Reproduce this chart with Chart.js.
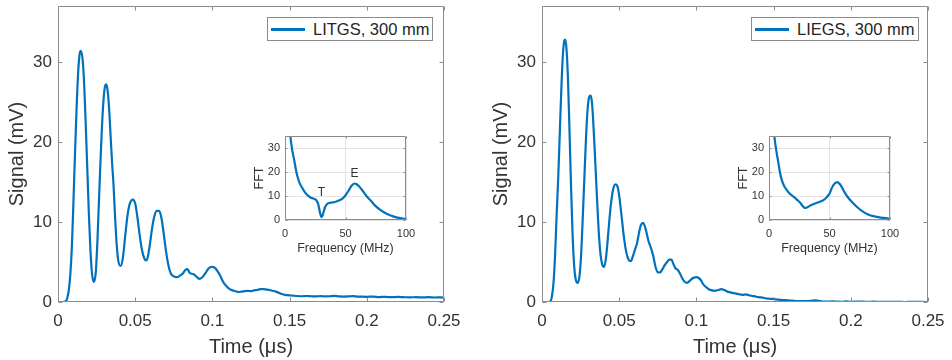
<!DOCTYPE html>
<html><head><meta charset="utf-8">
<script src="https://cdn.jsdelivr.net/npm/chart.js@4.4.1/dist/chart.umd.min.js"></script>
<style>
html,body{margin:0;padding:0;background:#fff;width:952px;height:360px;overflow:hidden;font-family:"Liberation Sans",Arial,sans-serif}
canvas{position:absolute}
.legend{position:absolute;border:1px solid #8c8c8c;background:#fff;height:24px;box-sizing:border-box;color:#262626;font-size:16.5px;line-height:22px;white-space:nowrap}
.legend .ln{position:absolute;left:3px;top:10px;width:34px;height:2.5px;background:#0072BD}
.legend .tx{position:absolute;left:45px;top:0px}
</style></head><body>
<canvas id="mainL" width="466" height="360" style="left:0;top:0"></canvas>
<canvas id="mainR" width="466" height="360" style="left:484px;top:0"></canvas>
<canvas id="insetL" width="167" height="128" style="left:253px;top:128px"></canvas>
<canvas id="insetR" width="167" height="128" style="left:737px;top:128px"></canvas>
<div class="legend" style="left:267px;top:17px;width:166px"><span class="ln"></span><span class="tx" id="legL"></span></div>
<div class="legend" style="left:751px;top:17px;width:168px"><span class="ln"></span><span class="tx" id="legR"></span></div>
<script>
// ---------- data ----------
const seriesNames = ['LITGS, 300 mm', 'LIEGS, 300 mm'];
const timeTicks = [0, 0.05, 0.1, 0.15, 0.2, 0.25];
const signalTicks = [0, 10, 20, 30];
const freqTicks = [0, 50, 100];
const fftTicks = [0, 10, 20, 30];

const timeLITGS = [0,0.003,0.005,0.006,0.007,0.008,0.009,0.010,0.011,0.012,0.013,0.014,0.0148,0.016,0.017,0.018,0.019,0.020,0.021,0.022,0.0233,0.0245,0.0255,0.0265,0.0275,0.0285,0.0295,0.0305,0.0313,0.032,0.033,0.034,0.035,0.036,0.037,0.038,0.039,0.0405,0.042,0.0435,0.045,0.0465,0.0485,0.050,0.0515,0.053,0.0545,0.056,0.057,0.058,0.0595,0.061,0.0625,0.064,0.0655,0.067,0.0685,0.070,0.0715,0.073,0.075,0.077,0.079,0.081,0.0825,0.0838,0.0855,0.0875,0.0895,0.0915,0.0935,0.0955,0.0975,0.0995,0.1015,0.1035,0.105,0.107,0.109,0.111,0.113,0.115,0.117,0.119,0.121,0.123,0.125,0.127,0.129,0.131,0.133,0.135,0.137,0.139,0.141,0.143,0.145,0.147,0.149,0.152,0.155,0.158,0.161,0.164,0.167,0.170,0.173,0.176,0.179,0.182,0.185,0.188,0.191,0.194,0.197,0.200,0.204,0.208,0.212,0.216,0.220,0.224,0.228,0.232,0.236,0.240,0.244,0.248,0.250];
const signalLITGS = [0,0,0.1,0.5,1.5,3.5,7,12.5,18.5,24,28.5,31,31.4,30.2,27,22,16.5,11,6.5,3.6,2.5,3.8,7.5,12.5,17.5,22,25.3,27,27.2,26.6,24.5,21,17.5,14.5,10.5,7.2,5.2,4.5,5.5,8.2,10.8,12.3,12.8,12.3,10.5,8.2,6.4,5.4,5.2,5.5,7.2,9.3,10.8,11.4,11.4,10.5,8.5,6.3,4.6,3.6,3.2,3.1,3.3,3.6,4.0,4.1,3.6,3.5,3.2,2.9,3.1,3.6,4.2,4.4,4.3,3.8,3.3,2.5,2.0,1.65,1.45,1.35,1.25,1.3,1.35,1.4,1.35,1.45,1.5,1.6,1.6,1.55,1.5,1.4,1.3,1.15,1.0,0.9,0.85,0.8,0.75,0.72,0.75,0.72,0.7,0.74,0.7,0.72,0.76,0.7,0.68,0.7,0.74,0.68,0.66,0.65,0.68,0.62,0.64,0.6,0.63,0.6,0.58,0.61,0.57,0.6,0.56,0.58,0.55,0.56];

const timeLIEGS = [0,0.004,0.0055,0.0065,0.0075,0.0085,0.0095,0.0105,0.0115,0.0125,0.0135,0.0145,0.0150,0.0158,0.0168,0.0178,0.0188,0.0198,0.0208,0.022,0.0233,0.0245,0.0255,0.0265,0.0275,0.0285,0.0295,0.0305,0.0314,0.0322,0.033,0.034,0.035,0.036,0.037,0.038,0.039,0.0403,0.0415,0.043,0.0445,0.046,0.0475,0.0488,0.050,0.0515,0.053,0.0545,0.056,0.0575,0.059,0.0605,0.0615,0.063,0.064,0.0655,0.067,0.069,0.0705,0.072,0.0735,0.075,0.0765,0.078,0.0795,0.081,0.0825,0.0838,0.085,0.0865,0.088,0.0895,0.091,0.0925,0.094,0.0955,0.097,0.0985,0.100,0.1015,0.103,0.1045,0.106,0.108,0.110,0.112,0.114,0.116,0.118,0.120,0.122,0.124,0.126,0.128,0.130,0.132,0.134,0.136,0.138,0.140,0.142,0.144,0.146,0.148,0.150,0.153,0.156,0.159,0.162,0.165,0.168,0.171,0.174,0.177,0.179,0.182,0.185,0.188,0.191,0.194,0.197,0.200,0.205,0.210,0.215,0.220,0.225,0.230,0.235,0.240,0.245,0.250];
const signalLIEGS = [0,0,0.1,0.8,2.5,6,11,15.5,21,26.5,30.8,32.7,32.8,31.8,28,21.5,14.5,8.5,4.6,2.7,2.4,3.6,6.5,11,15.8,20.5,24,25.6,25.8,25.2,23.2,19.5,15.5,11.5,8,5.8,4.7,4.4,5.6,8.8,12,14,14.7,14.5,13.3,10.8,8.2,6.3,5.3,5.1,5.8,6.7,7.3,8.8,9.6,9.9,9.2,7.6,6.8,5.8,4.4,3.7,3.7,4.1,4.6,5.0,5.3,5.3,4.8,4.2,4.0,3.5,2.9,2.5,2.4,2.6,2.9,3.05,3.1,3.0,2.7,2.2,1.9,1.6,1.45,1.4,1.5,1.6,1.5,1.3,1.2,1.1,1.05,0.95,0.9,0.95,0.85,0.75,0.7,0.6,0.58,0.5,0.42,0.4,0.38,0.3,0.25,0.22,0.18,0.12,0.12,0.1,0.14,0.22,0.15,0.05,0.04,0.08,0.05,0.02,0.08,0.03,0.05,0.02,0.04,0.01,0.03,0.02,0.0,0.02,0.01,0.0];

const freqLITGS = [2,4.4,6,7.7,9,10.4,12,14.5,16.5,18.6,21,24,26,27.5,28.5,29.5,30.2,31,32,33,34.5,36.5,39,42,45,47.5,50,52.5,55,57.5,59.5,62,65,68,71,74.5,79,84,90,95,100];
const fftLITGS = [50,35,29,24.8,21,17.9,15.5,13.1,11.5,10.3,9.4,8.8,8.2,6.5,4.0,2.0,1.2,1.8,3.5,5.2,6.5,7.1,7.3,7.6,8.2,8.9,10.3,12.2,14.3,15.2,14.8,13.6,11.6,9.6,8.0,6.0,4.1,2.6,1.4,0.8,0.4];
const freqLIEGS = [2,4.4,6,7.8,9,10.5,12.5,14.7,17,19.5,21.7,23.5,25.8,27.5,29,30.5,32,34,36,38.5,42.5,45,47.5,50,52.2,54.5,56.4,58.5,60.6,62.5,64.7,68,73,77,81.4,86,92.5,100];
const fftLIEGS = [50,35,29,23.7,20,16.7,14.2,12.5,11,10,9.1,8.3,7.2,6,5.2,5.0,5.4,6.0,6.5,7.0,7.7,8.3,9.4,11,13.6,15.3,15.8,15,13.3,11.5,9.8,7.8,5.3,3.7,2.4,1.6,1.0,0.5];

const peakLabels = ['T', 'E'];
const peakLabelFreq = [30, 57.5];
const peakLabelFFT = [11.5, 19.5];

// ---------- helpers ----------
const BLUE = '#0072BD', AXIS = '#8c8c8c', TXT = '#333333';
const FONT = '"Liberation Sans", Arial, Helvetica, sans-serif';
const pts = (xs, ys) => xs.map((x, i) => ({x, y: ys[i]}));
const fmt = v => String(Number(v.toFixed(3)));
const fixX = h => s => { s.height = h; s.paddingLeft = 0; s.paddingRight = 0; };
const fixY = w => s => { s.width = w; s.paddingTop = 0; s.paddingBottom = 0; };

const boxTicks = {
  id: 'boxTicks',
  beforeDraw(chart, args, o) {
    if (!o.fill) return;
    const a = chart.chartArea, c = chart.ctx;
    c.save(); c.fillStyle = '#fff'; c.fillRect(a.left, a.top, a.right - a.left, a.bottom - a.top); c.restore();
  },
  afterDraw(chart, args, o) {
    const {ctx, chartArea: a, scales: {x, y}} = chart;
    const L = Math.round(a.left) + 0.5, R = Math.round(a.right) - 0.5, T = Math.round(a.top) + 0.5, B = Math.round(a.bottom) - 0.5;
    ctx.save();
    ctx.strokeStyle = o.color || AXIS; ctx.lineWidth = 1;
    ctx.beginPath();
    ctx.moveTo(L, T); ctx.lineTo(R, T); ctx.lineTo(R, B); ctx.lineTo(L, B); ctx.closePath();
    const len = o.len || 4;
    x.ticks.forEach(t => {
      const p = Math.round(x.getPixelForValue(t.value)) + 0.5;
      ctx.moveTo(p, B); ctx.lineTo(p, B - len);
      ctx.moveTo(p, T); ctx.lineTo(p, T + len);
    });
    y.ticks.forEach(t => {
      const p = Math.round(y.getPixelForValue(t.value)) + 0.5;
      ctx.moveTo(L, p); ctx.lineTo(L + len, p);
      ctx.moveTo(R, p); ctx.lineTo(R - len, p);
    });
    ctx.stroke();
    if (o.labels) {
      ctx.fillStyle = TXT; ctx.font = '12px ' + FONT; ctx.textAlign = 'center'; ctx.textBaseline = 'middle';
      o.labels.forEach(l => ctx.fillText(l.t, x.getPixelForValue(l.x), y.getPixelForValue(l.y)));
    }
    ctx.restore();
  }
};

function mainChart(id, xs, ys) {
  return new Chart(document.getElementById(id), {
    type: 'line',
    data: {datasets: [{data: pts(xs, ys), borderColor: BLUE, borderWidth: 2.2, pointRadius: 0, tension: 0, cubicInterpolationMode: 'monotone', fill: false}]},
    options: {
      responsive: false, animation: false, devicePixelRatio: 1,
      layout: {padding: {left: 0, top: 6, right: 22, bottom: 0}},
      plugins: {legend: {display: false}, tooltip: {enabled: false}, boxTicks: {len: 4}},
      scales: {
        x: {type: 'linear', min: 0, max: 0.25,
          afterBuildTicks: s => { s.ticks = timeTicks.map(v => ({value: v})); },
          afterFit: fixX(58),
          grid: {display: false, drawTicks: false}, border: {display: false},
          ticks: {autoSkip: false, maxRotation: 0, padding: 9, color: TXT, font: {family: FONT, size: 17}, callback: v => fmt(v)},
          title: {display: true, text: 'Time (μs)', color: TXT, font: {family: FONT, size: 20}, padding: {top: 0, bottom: 1}}},
        y: {type: 'linear', min: 0, max: 37,
          afterBuildTicks: s => { s.ticks = signalTicks.map(v => ({value: v})); },
          afterFit: fixY(58),
          grid: {display: false, drawTicks: false}, border: {display: false},
          ticks: {padding: 6, color: TXT, font: {family: FONT, size: 17}, callback: v => fmt(v)},
          title: {display: true, text: 'Signal (mV)', color: TXT, font: {family: FONT, size: 20}, padding: {top: 5, bottom: 0}}}
      }
    },
    plugins: [boxTicks]
  });
}

function insetChart(id, xs, ys, labels) {
  return new Chart(document.getElementById(id), {
    type: 'line',
    data: {datasets: [{data: pts(xs, ys), borderColor: BLUE, borderWidth: 2.2, pointRadius: 0, cubicInterpolationMode: 'monotone', fill: false, clip: {left: 2, right: 2, top: 0, bottom: 2}}]},
    options: {
      responsive: false, animation: false, devicePixelRatio: 1,
      layout: {padding: {left: 0, top: 8, right: 14, bottom: 0}},
      plugins: {legend: {display: false}, tooltip: {enabled: false}, boxTicks: {len: 2, fill: true, labels}},
      scales: {
        x: {type: 'linear', min: 0, max: 100,
          afterBuildTicks: s => { s.ticks = freqTicks.map(v => ({value: v})); },
          afterFit: fixX(36),
          grid: {color: '#e3e3e3', drawTicks: false}, border: {display: false},
          ticks: {autoSkip: false, maxRotation: 0, padding: 7, color: TXT, font: {family: FONT, size: 11}},
          title: {display: true, text: 'Frequency (MHz)', color: TXT, font: {family: FONT, size: 12.5}, padding: {top: 0, bottom: 0}}},
        y: {type: 'linear', min: 0, max: 35,
          afterBuildTicks: s => { s.ticks = fftTicks.map(v => ({value: v})); },
          afterFit: fixY(32),
          grid: {color: '#e3e3e3', drawTicks: false}, border: {display: false},
          ticks: {padding: 5, color: TXT, font: {family: FONT, size: 11}},
          title: {display: true, text: 'FFT', color: TXT, font: {family: FONT, size: 12.5, lineHeight: 1}, padding: {top: 0, bottom: 0}}}
      }
    },
    plugins: [boxTicks]
  });
}

document.getElementById('legL').textContent = seriesNames[0];
document.getElementById('legR').textContent = seriesNames[1];
mainChart('mainL', timeLITGS, signalLITGS);
mainChart('mainR', timeLIEGS, signalLIEGS);
insetChart('insetL', freqLITGS, fftLITGS, peakLabels.map((t, i) => ({t, x: peakLabelFreq[i], y: peakLabelFFT[i]})));
insetChart('insetR', freqLIEGS, fftLIEGS, null);
</script>
</body></html>
